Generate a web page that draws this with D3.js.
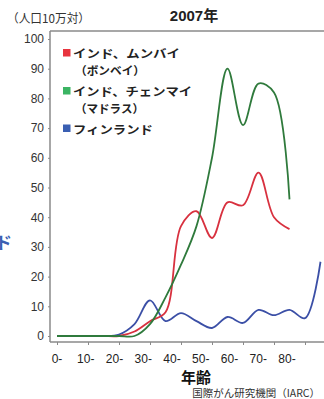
<!DOCTYPE html>
<html><head><meta charset="utf-8">
<script src="https://cdn.jsdelivr.net/npm/d3@7"></script>
<style>
html,body{margin:0;padding:0;background:#fff;}
svg{display:block;}
text{font-family:"Liberation Sans","Noto Sans CJK JP",sans-serif;}
.jp{font-family:"Noto Sans CJK JP","Liberation Sans",sans-serif;}
</style></head>
<body>
<svg id="c" width="324" height="399"></svg>
<script>
// ---- data ----
const ages = [0,5,10,15,20,25,30,35,40,45,50,55,60,65,70,75,80,85];
const mumbai  = [0,0,0,0,0,1.5,5,8,37,42,33,45,44,55,40,36];
const chennai = [0,0,0,0,0,0,4,13,24,37,60,90,71,85,82,46];
const finland = [0,0,0,0,0.5,4,12,5,7.7,5,2.7,6.4,4.4,8.8,7,8.8,6,25];
const seriesNames = ["インド、ムンバイ","インド、チェンマイ","フィンランド"];
const seriesSub = ["（ボンベイ）","（マドラス）",""];
const yTicks = [0,10,20,30,40,50,60,70,80,90,100];
const xTicks = [0,10,20,30,40,50,60,70,80];
const xTickLabels = ["0-","10-","20-","30-","40-","50-","60-","70-","80-"];
const title = "2007年";
const unitLabel = "（人口10万対）";
const xTitle = "年齢";
const source = "国際がん研究機関（IARC）";

// ---- layout ----
const svg = d3.select("#c");
const x = d3.scaleLinear().domain([0,85]).range([57,320.5]);
const xLab = d3.scaleLinear().domain([0,80]).range([57,287]);
const y = d3.scaleLinear().domain([0,100]).range([336,39]);
const axisColor = "#8a8a8a";
const lineColors = ["#d8313f","#2f7a3c","#3b4fa6"];
const keyColors = ["#e8343e","#3bb463","#3a5fb2"];

// frame
svg.append("line").attr("x1",50).attr("x2",324).attr("y1",31).attr("y2",31)
  .attr("stroke",axisColor).attr("stroke-width",1.3);
svg.append("line").attr("x1",50).attr("x2",50).attr("y1",31).attr("y2",342)
  .attr("stroke",axisColor).attr("stroke-width",1.5);
svg.append("line").attr("x1",50).attr("x2",324).attr("y1",342).attr("y2",342)
  .attr("stroke",axisColor).attr("stroke-width",1.3);

// y axis
const yAx = svg.append("g").attr("transform","translate(50,0)")
  .call(d3.axisLeft(y).tickValues(yTicks).tickSize(2).tickPadding(4));
yAx.select(".domain").remove();
yAx.selectAll("line").attr("stroke",axisColor);
yAx.selectAll("text").attr("font-size",12).attr("fill","#333")
  .attr("font-family","Liberation Sans, sans-serif");

// x axis ticks
const xAx = svg.append("g").attr("transform","translate(0,342)")
  .call(d3.axisBottom(x).tickValues(xTicks).tickSize(3).tickFormat(""));
xAx.select(".domain").remove();
xAx.selectAll("line").attr("stroke",axisColor);
// x labels (offset as in reference)
svg.append("g").selectAll("text").data(xTicks).join("text")
  .attr("x",d=>xLab(d)).attr("y",363).attr("text-anchor","middle")
  .attr("font-size",12).attr("fill","#222")
  .text((d,i)=>xTickLabels[i]);

// lines
const line = d3.line().x((d,i)=>x(ages[i])).y(d=>y(d)).curve(d3.curveCatmullRom.alpha(0.5));
[finland, mumbai, chennai].forEach((s,k)=>{
  const ci = [2,0,1][k];
  svg.append("path").datum(s).attr("d",line).attr("fill","none")
    .attr("stroke",lineColors[ci]).attr("stroke-width",1.8);
});

// legend
const legY = [53,91,128.5];
const nameLen = [107,119,80];
const subLen = [70,69];
seriesNames.forEach((n,i)=>{
  svg.append("rect").attr("x",63).attr("y",legY[i]-4).attr("width",7.5).attr("height",7.5)
    .attr("fill",keyColors[i]);
  svg.append("text").attr("class","jp").attr("x",73).attr("y",legY[i]+5)
    .attr("font-size",11.5).attr("font-weight","bold").attr("fill","#222")
    .attr("textLength",nameLen[i]).attr("lengthAdjust","spacingAndGlyphs").text(n);
  if(seriesSub[i]) svg.append("text").attr("class","jp").attr("x",75).attr("y",legY[i]+22)
    .attr("font-size",11.5).attr("font-weight","bold").attr("fill","#222")
    .attr("textLength",subLen[i]).attr("lengthAdjust","spacingAndGlyphs").text(seriesSub[i]);
});

// titles
svg.append("text").attr("x",194).attr("y",21).attr("text-anchor","middle")
  .attr("font-size",15).attr("font-weight","bold").attr("fill","#222").text(title);
svg.append("text").attr("class","jp").attr("x",7).attr("y",23)
  .attr("font-size",12).attr("fill","#333")
  .attr("textLength",83).attr("lengthAdjust","spacingAndGlyphs").text(unitLabel);
svg.append("text").attr("class","jp").attr("x",196).attr("y",383).attr("text-anchor","middle")
  .attr("font-size",15).attr("font-weight","bold").attr("fill","#111").text(xTitle);
svg.append("text").attr("class","jp").attr("x",320).attr("y",397).attr("text-anchor","end")
  .attr("font-size",10.5).attr("fill","#333").text(source);
// clipped fragment at left edge (as in reference)
svg.append("text").attr("class","jp").attr("x",-5).attr("y",249)
  .attr("font-size",17).attr("font-weight","bold").attr("fill","#3a5fb2").text("ド");
</script>
</body></html>
